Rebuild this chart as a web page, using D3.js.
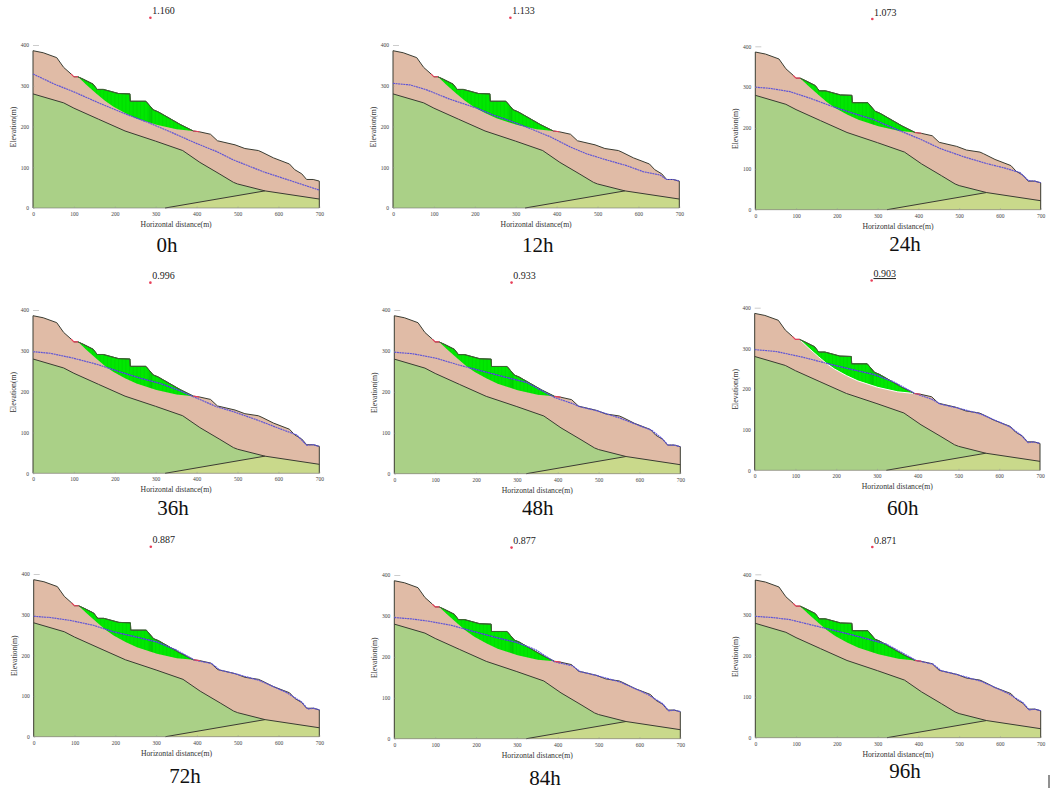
<!DOCTYPE html>
<html>
<head>
<meta charset="utf-8">
<title>Slope stability over time</title>
<script src="https://cdn.jsdelivr.net/npm/d3@7"></script>
<style>
  html, body { margin: 0; padding: 0; background: #fff; }
  svg { display: block; }
  text { font-family: "Liberation Serif", serif; }
</style>
</head>
<body>
<div id="chart"></div>
<script>
(function () {
  'use strict';

  // Values: [horizontal distance, elevation]
  var hours = ['0h', '12h', '24h', '36h', '48h', '60h', '72h', '84h', '96h'];
  var safety = ['1.160', '1.133', '1.073', '0.996', '0.933', '0.903', '0.887', '0.877', '0.871'];

  var surface = [[0,386],[25,381],[58,369],[75,345],[93,329],[100,322],[110,322],[123,316],[147,304],[157,291],[172,291],[209,281],[237,280],[238,262],[276,262],[294,241],[306,236],[320,228],[360,205],[392,189],[407,187],[434,181],[451,165],[494,155],[518,146],[551,141],[560,137],[588,123],[627,108],[640,94],[657,84],[669,70],[685,70],[700,66]];
  var rockTop = [[0,280],[75,258],[100,245],[160,218],[225,189],[300,164],[366,141],[408,112],[457,83],[490,63],[500,59],[567,42]];
  var rockRight = [[567,42],[700,22]];
  var contact = [[323,0],[567,42]];
  var slideTop = [[110,322],[123,316],[147,304],[157,291],[172,291],[209,281],[237,280],[238,262],[276,262],[294,241],[306,236],[320,228],[360,205],[392,189]];
  var slipSurface = [[110,322],[131,302],[156,280],[176,263],[196,249],[225,233],[253,220],[302,204],[351,193],[392,189]];
  var crackUpper = [[93,329],[100,322],[110,322]];
  var crackLower = [[392,189],[407,187]];
  var slipCentre = [287, 467];

  var phreatic = [
    [[0,329],[50,305],[100,285],[165,256],[233,228],[286,208],[340,185],[396,160],[450,138],[490,118],[563,89],[636,65],[700,44]],
    [[0,306],[42,302],[82,290],[139,267],[205,245],[245,228],[286,214],[335,195],[384,175],[433,150],[473,133],[522,118],[571,104],[612,89],[653,81],[669,70],[685,70],[700,66]],
    [[0,300],[36,297],[85,289],[134,273],[191,252],[240,236],[289,221],[355,193],[404,173],[453,150],[510,130],[567,113],[608,103],[649,91],[670,71],[685,70],[700,66]],
    [[0,298],[42,294],[99,282],[156,267],[205,251],[262,233],[311,220],[360,202],[396,186],[449,163],[490,151],[547,131],[604,109],[645,94],[669,69],[685,70],[700,66]],
    [[0,297],[46,293],[103,282],[160,265],[218,250],[275,235],[324,223],[393,186],[437,171],[453,164],[495,154],[552,136],[601,117],[630,106],[654,87],[670,70],[685,70],[700,66]],
    [[0,297],[54,292],[119,278],[177,263],[234,249],[291,236],[340,218],[393,189],[434,175],[455,163],[495,154],[553,139],[602,118],[626,107],[655,85],[671,68],[685,70],[700,66]],
    [[0,296],[40,293],[89,286],[146,274],[195,258],[252,245],[301,233],[350,213],[395,188],[436,180],[456,164],[497,154],[554,138],[619,109],[656,86],[672,68],[685,70],[700,66]],
    [[0,296],[40,293],[85,287],[140,277],[190,263],[250,247],[300,235],[345,218],[392,188],[436,178],[455,164],[497,154],[554,138],[619,109],[656,86],[672,68],[685,70],[700,66]],
    [[0,297],[45,294],[85,289],[175,267],[240,251],[322,229],[395,189],[436,180],[456,164],[497,154],[554,138],[619,109],[656,86],[672,68],[685,70],[700,66]]
  ];

  var xTicks = [0, 100, 200, 300, 400, 500, 600, 700];
  var yTicks = [0, 100, 200, 300, 400];
  var sliceStops = d3.range(110, 392, 9);

  // Pixel placement of each panel, the source is a hand-pasted montage
  var boxes = [
    { x0: 33,    x1: 319.3,  y0: 208,   y1: 45,    titleX: 167,   titleY: 252 },
    { x0: 393,   x1: 679.3,  y0: 208,   y1: 45,    titleX: 537.7, titleY: 252 },
    { x0: 755.3, x1: 1040.7, y0: 209.7, y1: 46.3,  titleX: 905,   titleY: 251 },
    { x0: 33,    x1: 319.3,  y0: 473.3, y1: 310,   titleX: 173,   titleY: 515 },
    { x0: 394.3, x1: 680.3,  y0: 473.7, y1: 310,   titleX: 537.7, titleY: 515 },
    { x0: 754.7, x1: 1040,   y0: 470.3, y1: 307.7, titleX: 902.7, titleY: 515, underline: true, slipEdge: true },
    { x0: 33.7,  x1: 319.3,  y0: 736.7, y1: 574,   titleX: 185,   titleY: 783 },
    { x0: 394.3, x1: 680.3,  y0: 738.7, y1: 575,   titleX: 545,   titleY: 785 },
    { x0: 755.3, x1: 1040.7, y0: 737.7, y1: 574.3, titleX: 905,   titleY: 778 }
  ];

  var COL = {
    clay:    '#e0bba6',
    rock:    '#aad087',
    base:    '#c9d98b',
    slide:   '#00e800',
    slice:   'rgba(0,110,20,0.18)',
    outline: '#3a3c32',
    rim:     '#3a6a30',
    water:   '#5f55d6',
    waterIn: '#1d4fa6',
    red:     '#e8405a',
    tick:    '#444'
  };

  var svg = d3.select('#chart').append('svg')
    .attr('width', 1052).attr('height', 789)
    .attr('viewBox', '0 0 1052 789');

  function drawPanel(box, i) {
    var x = d3.scaleLinear().domain([0, 700]).range([box.x0, box.x1]);
    var y = d3.scaleLinear().domain([0, 400]).range([box.y0, box.y1]);
    var line = d3.line().x(function (d) { return x(d[0]); }).y(function (d) { return y(d[1]); });

    var g = svg.append('g');
    var clipId = 'slide-' + i;

    // Soil layers, back to front
    g.append('path')
      .attr('d', line(surface.concat([[700, 0], [0, 0]])) + 'Z')
      .attr('fill', COL.clay);
    g.append('path')
      .attr('d', line([[0, 0]].concat(rockTop, [[323, 0]])) + 'Z')
      .attr('fill', COL.rock);
    g.append('path')
      .attr('d', line(contact.concat(rockRight, [[700, 0]])) + 'Z')
      .attr('fill', COL.base);

    // Sliding mass
    var slidePath = line(slideTop.concat(slipSurface.slice().reverse())) + 'Z';
    g.append('clipPath').attr('id', clipId).append('path').attr('d', slidePath);
    g.append('path').attr('d', slidePath).attr('fill', COL.slide);

    var slices = g.append('g').attr('clip-path', 'url(#' + clipId + ')');
    sliceStops.forEach(function (s) {
      slices.append('line')
        .attr('x1', x(s)).attr('x2', x(s))
        .attr('y1', y(340)).attr('y2', y(180))
        .attr('stroke', COL.slice).attr('stroke-width', 0.6);
    });
    slices.append('rect')
      .attr('x', x(283)).attr('width', x(292) - x(283))
      .attr('y', y(340)).attr('height', y(180) - y(340))
      .attr('fill', 'rgba(0,90,20,0.14)');

    if (box.slipEdge) {
      g.append('path').attr('d', line(slipSurface))
        .attr('fill', 'none').attr('stroke', '#fff').attr('stroke-width', 1);
    }

    // Boundaries
    [rockTop, rockRight, contact].forEach(function (pts) {
      g.append('path').attr('d', line(pts))
        .attr('fill', 'none').attr('stroke', COL.outline).attr('stroke-width', 1);
    });
    g.append('path')
      .attr('d', line([[0, 0]].concat(surface, [[700, 0]])))
      .attr('fill', 'none').attr('stroke', COL.outline).attr('stroke-width', 1);
    g.append('path').attr('d', line(slideTop))
      .attr('fill', 'none').attr('stroke', COL.rim).attr('stroke-width', 1);
    g.append('path').attr('d', line([[0, 0], [700, 0]]))
      .attr('fill', 'none').attr('stroke', '#777').attr('stroke-width', 0.6);

    // Water table
    g.append('path').attr('d', line(phreatic[i]))
      .attr('fill', 'none').attr('stroke', COL.water)
      .attr('stroke-width', 1.2).attr('stroke-dasharray', '2,0.6');
    slices.append('path').attr('d', line(phreatic[i]))
      .attr('fill', 'none').attr('stroke', COL.waterIn).attr('stroke-width', 1);

    // Crack ends of the slip surface
    [crackUpper, crackLower].forEach(function (pts) {
      g.append('path').attr('d', line(pts))
        .attr('fill', 'none').attr('stroke', COL.red).attr('stroke-width', 1.1);
    });

    // Axes
    var xAxis = g.append('g')
      .attr('transform', 'translate(0,' + box.y0 + ')')
      .call(d3.axisBottom(x).tickValues(xTicks).tickSize(-1.5).tickPadding(4));
    var yAxis = g.append('g')
      .attr('transform', 'translate(' + box.x0 + ',0)')
      .call(d3.axisLeft(y).tickValues(yTicks).tickSize(-1.5).tickPadding(4));
    [xAxis, yAxis].forEach(function (ax) {
      ax.select('.domain').remove();
      ax.selectAll('.tick line').attr('stroke', '#999').attr('stroke-width', 0.5);
      ax.selectAll('text')
        .attr('font-size', 5.5)
        .attr('font-family', '"Liberation Serif", serif')
        .attr('fill', COL.tick);
    });
    yAxis.select('.tick:last-of-type line').attr('x2', 6);

    var w = box.x1 - box.x0;
    g.append('text')
      .attr('x', box.x0 + w * 0.5).attr('y', box.y0 + 19)
      .attr('text-anchor', 'middle').attr('font-size', 7.7).attr('fill', '#333')
      .text('Horizontal distance(m)');
    g.append('text')
      .attr('transform', 'translate(' + (box.x0 - 17) + ',' + (box.y0 - 81) + ') rotate(-90)')
      .attr('text-anchor', 'middle').attr('font-size', 7.7).attr('fill', '#333')
      .text('Elevation(m)');

    // Slip centre and factor of safety
    g.append('circle')
      .attr('cx', x(slipCentre[0])).attr('cy', y(slipCentre[1]))
      .attr('r', 1.3).attr('fill', COL.red);
    g.append('text')
      .attr('x', x(slipCentre[0]) + 1.8).attr('y', y(slipCentre[1]) - 3.4)
      .attr('font-size', 10).attr('fill', '#222')
      .style('text-decoration', box.underline ? 'underline' : null)
      .text(safety[i]);

    g.append('text')
      .attr('x', box.titleX).attr('y', box.titleY)
      .attr('text-anchor', 'middle').attr('font-size', 21).attr('fill', '#111')
      .text(hours[i]);
  }

  boxes.forEach(drawPanel);

  // Stray cursor mark in the bottom corner of the source image
  svg.append('line')
    .attr('x1', 1049).attr('x2', 1049)
    .attr('y1', 775).attr('y2', 788)
    .attr('stroke', '#222').attr('stroke-width', 1);
}());
</script>
</body>
</html>
